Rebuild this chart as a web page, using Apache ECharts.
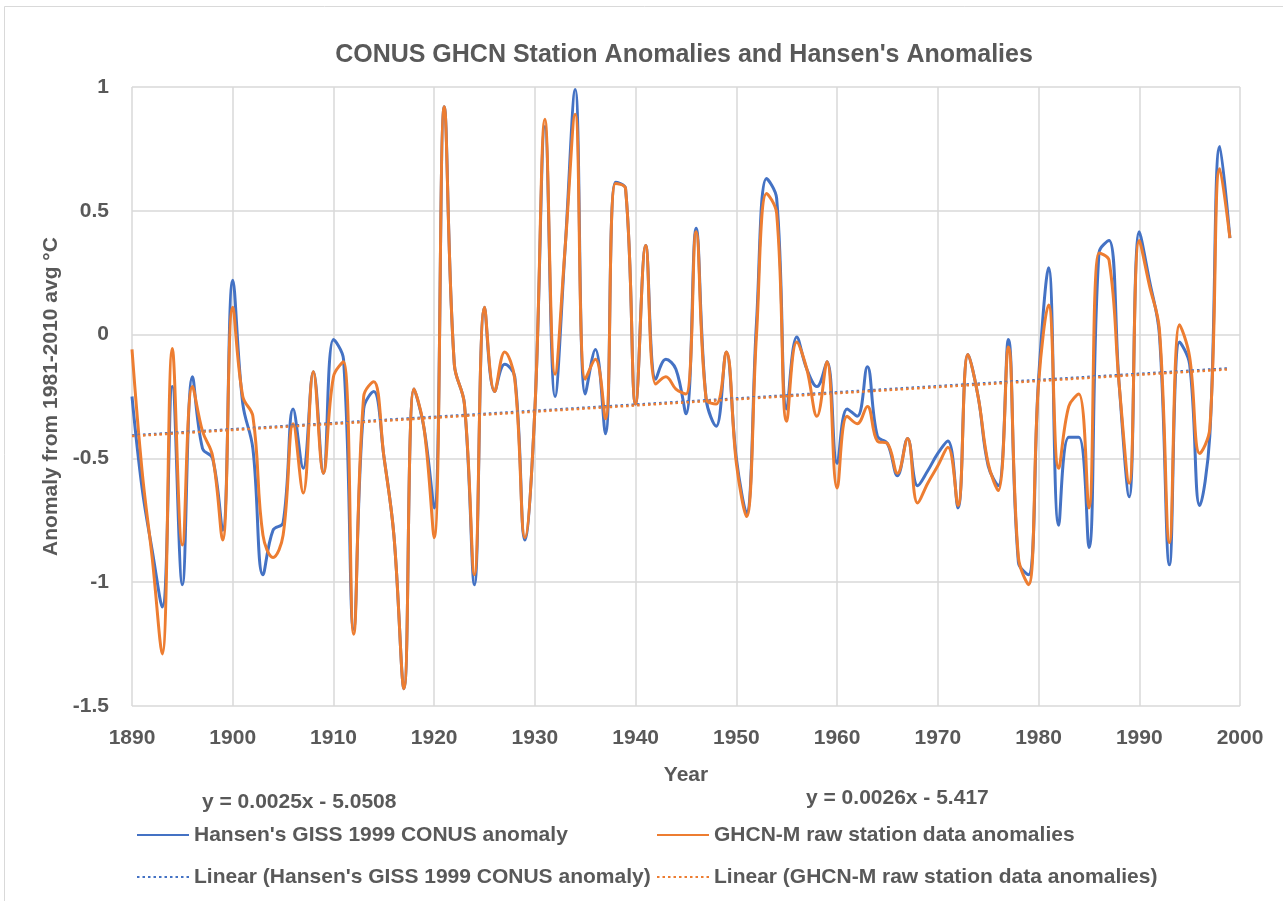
<!DOCTYPE html>
<html>
<head>
<meta charset="utf-8">
<script src="https://cdn.jsdelivr.net/npm/echarts@6/dist/echarts.min.js"></script>
<style>
html,body{margin:0;padding:0;background:#fff;}
#chart{width:1283px;height:901px;}
</style>
</head>
<body>
<div id="chart"></div>
<script>
// ---- Data ----
var years = [];
for (var y = 1890; y <= 1999; y++) years.push(y);

var hansen = [
 -0.25,-0.62,-0.87,-1.10,-0.21,-1.01,-0.17,-0.46,-0.50,-0.79,
  0.22,-0.28,-0.46,-0.97,-0.79,-0.76,-0.30,-0.54,-0.15,-0.56,
 -0.02,-0.10,-1.19,-0.30,-0.23,-0.49,-0.81,-1.43,-0.22,-0.38,
 -0.70, 0.92,-0.12,-0.28,-1.01, 0.11,-0.23,-0.12,-0.17,-0.83,
 -0.30, 0.84,-0.25, 0.35, 0.99,-0.24,-0.06,-0.40, 0.615,0.59,
 -0.28, 0.36,-0.18,-0.10,-0.14,-0.32, 0.43,-0.26,-0.37,-0.07,
 -0.50,-0.72, 0.05, 0.63, 0.55,-0.30,-0.01,-0.14,-0.21,-0.11,
 -0.52,-0.30,-0.33,-0.13,-0.41,-0.44,-0.57,-0.42,-0.61,-0.55,
 -0.48,-0.43,-0.70,-0.08,-0.25,-0.53,-0.61,-0.02,-0.92,-0.97,
 -0.18, 0.27,-0.77,-0.415,-0.415,-0.86,0.33, 0.38,-0.20,-0.655,
  0.415,0.22, 0.00,-0.93,-0.03,-0.12,-0.69,-0.41, 0.76, 0.39
];

var ghcn = [
 -0.06,-0.55,-0.90,-1.29,-0.056,-0.85,-0.21,-0.39,-0.49,-0.83,
  0.11,-0.25,-0.33,-0.81,-0.90,-0.81,-0.36,-0.64,-0.15,-0.56,
 -0.17,-0.11,-1.21,-0.25,-0.19,-0.49,-0.81,-1.43,-0.22,-0.38,
 -0.82, 0.92,-0.12,-0.28,-0.97, 0.11,-0.23,-0.07,-0.18,-0.82,
 -0.30, 0.87,-0.16, 0.35, 0.89,-0.18,-0.10,-0.34, 0.61, 0.59,
 -0.28, 0.36,-0.20,-0.17,-0.22,-0.24, 0.415,-0.26,-0.28,-0.07,
 -0.52,-0.735,0.00, 0.57, 0.49,-0.35,-0.03,-0.14,-0.33,-0.11,
 -0.62,-0.33,-0.36,-0.29,-0.43,-0.44,-0.56,-0.42,-0.68,-0.60,
 -0.53,-0.455,-0.69,-0.08,-0.25,-0.52,-0.63,-0.05,-0.90,-1.01,
 -0.20, 0.12,-0.54,-0.29,-0.24,-0.70, 0.33, 0.30,-0.20,-0.60,
  0.38, 0.20, 0.02,-0.84, 0.04,-0.09,-0.48,-0.38, 0.67, 0.39
];

// trend line end points
var trendYears = [1890, 1999];
var trendHansen = [-0.407, -0.136];
var trendGhcn = [-0.41, -0.14];

var xTicks = {min: 1890, max: 2000, interval: 10};
var yTicks = {min: -1.5, max: 1, interval: 0.5};

var nameHansen = "Hansen's GISS 1999 CONUS anomaly";
var nameGhcn = "GHCN-M raw station data anomalies";
var nameLinH = "Linear (Hansen's GISS 1999 CONUS anomaly)";
var nameLinG = "Linear (GHCN-M raw station data anomalies)";
var eqHansen = "y = 0.0025x - 5.0508";
var eqGhcn = "y = 0.0026x - 5.417";

// ---- build ----
function pairs(xs, vs) { return xs.map(function (x, i) { return [x, vs[i]]; }); }

var FONT = "'Liberation Sans', Arial, sans-serif";
var TXT = '#595959';
var BLUE = '#4472C4';
var ORANGE = '#ED7D31';

function legendAt(name, left, top) {
  return {
    data: [name], left: left, top: top, orient: 'horizontal', padding: 0,
    itemWidth: 52, itemHeight: 14, selectedMode: false,
    itemStyle: {opacity: 0},
    textStyle: {fontFamily: FONT, fontSize: 21, fontWeight: 'bold', color: TXT, lineHeight: 24}
  };
}

var chart = echarts.init(document.getElementById('chart'), null, {renderer: 'canvas'});
chart.setOption({
  backgroundColor: '#ffffff',
  animation: false,
  title: {
    text: "CONUS GHCN Station Anomalies and Hansen's Anomalies",
    left: 679, top: 38, textAlign: 'center',
    textStyle: {fontFamily: FONT, fontSize: 25, fontWeight: 'bold', color: TXT}
  },
  graphic: [
    {type: 'rect', shape: {x: 4.5, y: 6.5, width: 2000, height: 2000}, style: {fill: null, stroke: '#d9d9d9', lineWidth: 1}, silent: true},
    {type: 'text', left: 202, top: 792, style: {text: eqHansen, fontFamily: FONT, fontSize: 21, fontWeight: 'bold', fill: TXT}},
    {type: 'text', left: 806, top: 788, style: {text: eqGhcn, fontFamily: FONT, fontSize: 21, fontWeight: 'bold', fill: TXT}}
  ],
  legend: [
    legendAt(nameHansen, 136, 823),
    legendAt(nameGhcn, 656, 823),
    legendAt(nameLinH, 136, 865),
    legendAt(nameLinG, 656, 865)
  ],
  grid: {left: 132, right: 43, top: 87, bottom: 195, containLabel: false},
  xAxis: {
    type: 'value', min: xTicks.min, max: xTicks.max, interval: xTicks.interval,
    name: 'Year', nameLocation: 'middle', nameGap: 59,
    nameTextStyle: {fontFamily: FONT, fontSize: 21, fontWeight: 'bold', color: TXT},
    axisLine: {show: false}, axisTick: {show: false},
    axisLabel: {margin: 22, fontFamily: FONT, fontSize: 21, fontWeight: 'bold', color: TXT,
      formatter: function (v) { return String(v); }},
    splitLine: {show: true, lineStyle: {color: '#d9d9d9', width: 1.5}}
  },
  yAxis: {
    type: 'value', min: yTicks.min, max: yTicks.max, interval: yTicks.interval,
    name: 'Anomaly from 1981-2010 avg °C', nameLocation: 'middle', nameGap: 70,
    nameTextStyle: {fontFamily: FONT, fontSize: 21, fontWeight: 'bold', color: TXT},
    axisLine: {show: false}, axisTick: {show: false},
    axisLabel: {margin: 23, fontFamily: FONT, fontSize: 21, fontWeight: 'bold', color: TXT},
    splitLine: {show: true, lineStyle: {color: '#d9d9d9', width: 1.5}}
  },
  series: [
    {name: nameHansen, type: 'line', data: pairs(years, hansen), smooth: 0.4, showSymbol: false, symbol: 'none',
     lineStyle: {color: BLUE, width: 3}, itemStyle: {color: BLUE}, z: 2},
    {name: nameGhcn, type: 'line', data: pairs(years, ghcn), smooth: 0.4, showSymbol: false, symbol: 'none',
     lineStyle: {color: ORANGE, width: 3}, itemStyle: {color: ORANGE}, z: 3},
    {name: nameLinH, type: 'line', data: pairs(trendYears, trendHansen), showSymbol: false, symbol: 'none',
     lineStyle: {color: BLUE, width: 2.5, type: [2.5, 3]}, itemStyle: {color: BLUE}, z: 4},
    {name: nameLinG, type: 'line', data: pairs(trendYears, trendGhcn), showSymbol: false, symbol: 'none',
     lineStyle: {color: ORANGE, width: 2.5, type: [2.5, 3]}, itemStyle: {color: ORANGE}, z: 5}
  ]
});
</script>
</body>
</html>
